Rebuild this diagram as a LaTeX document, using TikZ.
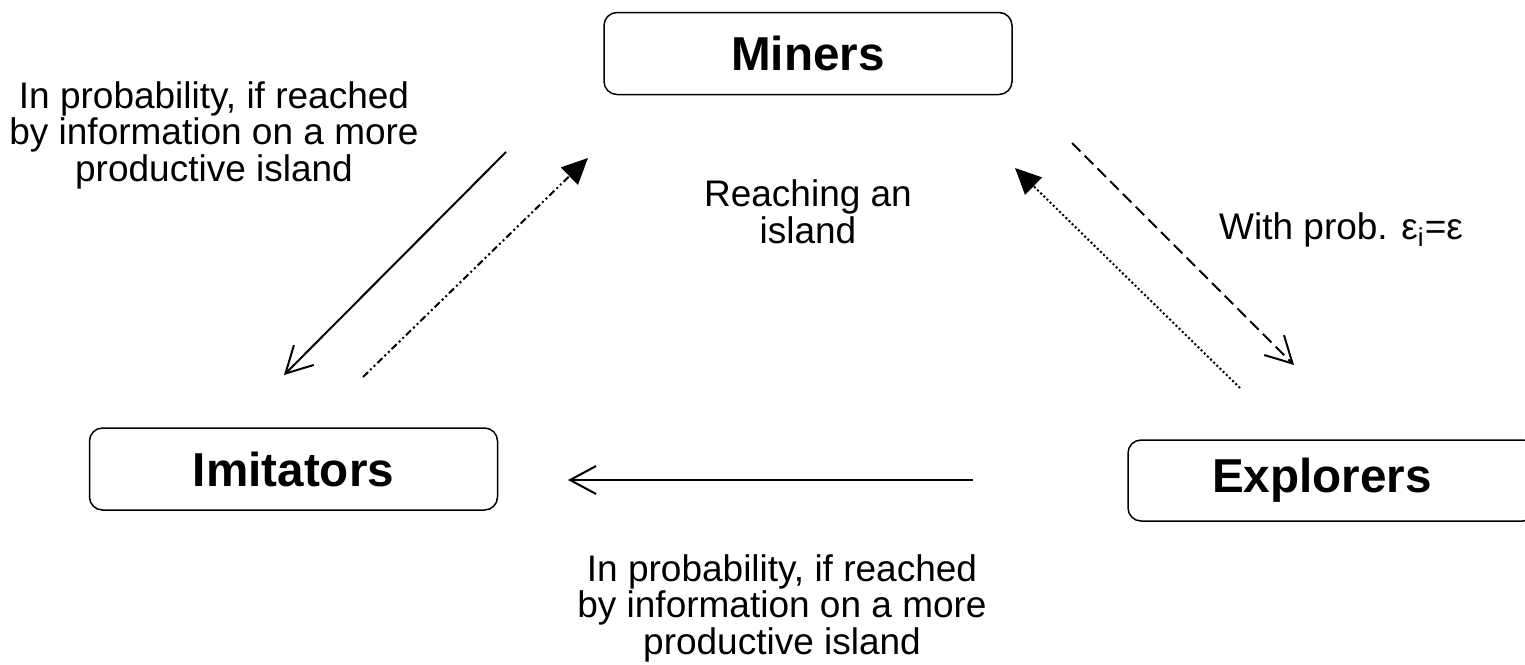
\documentclass[tikz,border=0pt]{standalone}
\usepackage{fontspec}
\setmainfont{Liberation Sans}
\usetikzlibrary{arrows.meta}
\tikzset{
  box/.style={draw, line width=0.75pt, rounded corners=6.5pt, minimum width=204pt, minimum height=41pt, font=\fontsize{23.8}{24}\selectfont\bfseries, inner sep=0pt},
  lbl/.style={align=center, font=\fontsize{18.5}{17}\selectfont, inner sep=0pt},
  conn/.style={line width=1pt},
  openhead/.style={-{Straight Barb[length=13pt,width=14pt,line width=1pt]}},
  fillhead/.style={-{Triangle[length=13pt,width=12pt]}},
  dashdotdot/.style={dash pattern=on 3.5pt off 1.5pt on 1pt off 1.5pt on 1pt off 1.5pt},
  dashedline/.style={dash pattern=on 6pt off 3pt},
  dottedline/.style={dash pattern=on 1pt off 1.2pt}
}
\begin{document}
\begin{tikzpicture}[x=0.5pt,y=-0.5pt]
\useasboundingbox (0,0) rectangle (1525,664);
\clip (0,0) rectangle (1525,664);
\node[box] (miners) at (808,53.5) {Miners};
\node[box] (imitators) at (293.5,469) {Imitators};
\node[box, minimum height=40.5pt] (explorers) at (1332,480.5) {Explorers\hspace*{10pt}};
\node[lbl] (ltext) at (214,135) {In probability, if reached\\by information on a more\\productive island};
\node[lbl] (ctext) at (808,212) {Reaching an\\island};
\node[lbl] (rtext) at (1341,230) {With prob. ε\textsubscript{i}=ε};
\node[lbl] (btext) at (782,608) {In probability, if reached\\by information on a more\\productive island};
\coordinate (a1s) at (506,152); \coordinate (a1e) at (284,375);
\coordinate (a2s) at (363,377); \coordinate (a2e) at (588,158);
\coordinate (a3s) at (1072,143); \coordinate (a3e) at (1294,365);
\coordinate (a4s) at (1240,388); \coordinate (a4e) at (1015,168);
\coordinate (a5s) at (973,480); \coordinate (a5e) at (568,480);
\draw[conn, openhead] (a1s) -- (a1e);
\draw[conn, fillhead, dashdotdot] (a2s) -- (a2e);
\draw[conn, openhead, dashedline] (a3s) -- (a3e);
\draw[conn, fillhead, dottedline] (a4s) -- (a4e);
\draw[conn, openhead] (a5s) -- (a5e);
\end{tikzpicture}
\end{document}
